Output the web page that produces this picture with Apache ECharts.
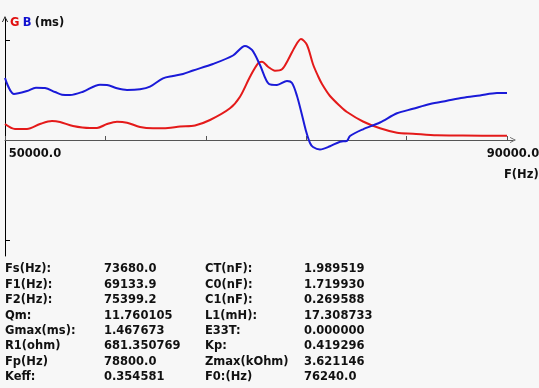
<!DOCTYPE html>
<html>
<head>
<meta charset="utf-8">
<script src="https://cdn.jsdelivr.net/npm/echarts@6/dist/echarts.min.js"></script>
<style>
html,body{margin:0;padding:0;background:#f7f7f7;}
#chart{width:539px;height:388px;}
</style>
</head>
<body>
<div id="chart"></div>
<script>
// ---- data ----
var freqG = [50000,50797,51753,52789,53745,54382,55418,56773,57331,58127,58924,59721,60757,61793,62988,63944,65139,66334,67928,68725,69522,70159,70478,70956,71514,72071,72549,73107,73585,74063,74542,74940,75259,75896,76693,77251,78525,79880,81235,82509,84422,86493,90000];
var valG  = [0.2326,0.1599,0.1599,0.2326,0.2762,0.2616,0.2035,0.1744,0.1744,0.2326,0.2660,0.2515,0.1890,0.1701,0.1744,0.1962,0.2108,0.2907,0.4608,0.6294,0.9201,1.1148,1.1381,1.0654,1.0073,1.0276,1.1628,1.3561,1.4680,1.3808,1.1010,0.9302,0.8140,0.6395,0.4942,0.4070,0.2689,0.1701,0.1061,0.0916,0.0683,0.0654,0.0610];
var freqB = [50000,50717,51753,52470,53187,53984,54542,55179,56215,57570,58127,58924,59721,60757,61554,62590,63386,64183,64980,66573,68167,69123,69681,70318,71035,71673,72470,72868,73267,73665,73984,74302,74542,75099,75896,76693,77251,77490,78525,79880,81235,82509,83864,85219,86493,87848,89203,90000];
var valB  = [0.9012,0.6686,0.7122,0.7602,0.7558,0.6977,0.6584,0.6541,0.7020,0.8038,0.7994,0.7515,0.7268,0.7369,0.7747,0.8968,0.9302,0.9593,1.0102,1.1047,1.2282,1.3663,1.3082,1.0901,0.8140,0.7994,0.8576,0.8285,0.6395,0.3634,0.1308,-0.0436,-0.1017,-0.1381,-0.0916,-0.0247,-0.0116,0.0581,0.1555,0.2544,0.3881,0.4535,0.5233,0.5698,0.6134,0.6468,0.6831,0.6831];
var xTicks = [50000,58000,66000,74000,82000,90000];
var xLabels = [50000,90000];
var yTicks = [-1.4535,1.4535];
var statLabels1 = ['Fs(Hz):','F1(Hz):','F2(Hz):','Qm:','Gmax(ms):','R1(ohm)','Fp(Hz)','Keff:'];
var statValues1 = ['73680.0','69133.9','75399.2','11.760105','1.467673','681.350769','78800.0','0.354581'];
var statLabels2 = ['CT(nF):','C0(nF):','C1(nF):','L1(mH):','E33T:','Kp:','Zmax(kOhm)','F0:(Hz)'];
var statValues2 = ['1.989519','1.719930','0.269588','17.308733','0.000000','0.419296','3.621146','76240.0'];

// ---- chart ----
var FONT = 'DejaVu Sans';
var FS = 11.5;
var chevron = 'path://M0,10 L5,0 L10,10 L8.6,10 L5,2.8 L1.4,10 Z';
function pairs(xs, ys){ return xs.map(function(x,i){ return [x, ys[i]]; }); }
function ts(color){ return {fontFamily:FONT, fontWeight:'bold', fontSize:FS, color:color}; }

var texts = [];
var rowY0 = 268, rowStep = 15.4;
function addCol(arr, x){
  arr.forEach(function(t,i){
    texts.push({type:'text', left:x, top:rowY0 + i*rowStep - 4.5,
      style:{text:t, font:'bold '+FS+'px "'+FONT+'"', fill:'#111'}});
  });
}
addCol(statLabels1, 5);
addCol(statValues1, 104);
addCol(statLabels2, 205);
addCol(statValues2, 304);

var chart = echarts.init(document.getElementById('chart'), null, {renderer:'canvas'});
chart.setOption({
  backgroundColor:'#f7f7f7',
  animation:false,
  grid:{left:5, right:26, top:19, bottom:132, containLabel:false, outerBoundsMode:'none'},
  xAxis:{
    type:'value', min:50000, max:90478,
    splitLine:{show:false},
    axisLine:{show:true, onZero:true, symbol:['none', chevron], symbolSize:[10,6],
      lineStyle:{color:'#555', width:1}},
    axisTick:{show:true, inside:true, length:4, customValues:xTicks, lineStyle:{color:'#555'}},
    axisLabel:{show:true, customValues:xLabels, margin:-108, align:'center', verticalAlign:'top',
      formatter:function(v){ return v===50000 ? '{a|'+v.toFixed(1)+'}' : '{b|'+v.toFixed(1)+'}'; },
      rich:{
        a:Object.assign(ts('#111'), {padding:[0,0,0,60]}),
        b:Object.assign(ts('#111'), {padding:[0,0,0,12]})
      }},
    name:'F(Hz)', nameLocation:'end', nameGap:-9,
    nameTextStyle:Object.assign(ts('#111'), {align:'left', verticalAlign:'top', padding:[29,0,0,0]})
  },
  yAxis:{
    type:'value', min:-1.6861, max:1.7587,
    splitLine:{show:false},
    axisLine:{show:true, symbol:['none', chevron], symbolSize:[9,6],
      lineStyle:{color:'#000', width:1}},
    axisTick:{show:true, inside:true, length:5, customValues:yTicks, lineStyle:{color:'#000'}},
    axisLabel:{show:false},
    name:'{g|G} {b|B} {k|(ms)}', nameLocation:'end', nameGap:-4,
    nameTextStyle:{align:'left', verticalAlign:'middle', padding:[0,0,0,5],
      rich:{ g:ts('#e01010'), b:ts('#1010d0'), k:ts('#111') }}
  },
  series:[
    {type:'line', name:'G', data:pairs(freqG,valG), showSymbol:false, smooth:0.3,
      lineStyle:{color:'#e41a1a', width:2}, itemStyle:{color:'#e41a1a'}},
    {type:'line', name:'B', data:pairs(freqB,valB), showSymbol:false, smooth:0.3,
      lineStyle:{color:'#1a1ad8', width:2}, itemStyle:{color:'#1a1ad8'}}
  ],
  graphic:texts
});
</script>
</body>
</html>
